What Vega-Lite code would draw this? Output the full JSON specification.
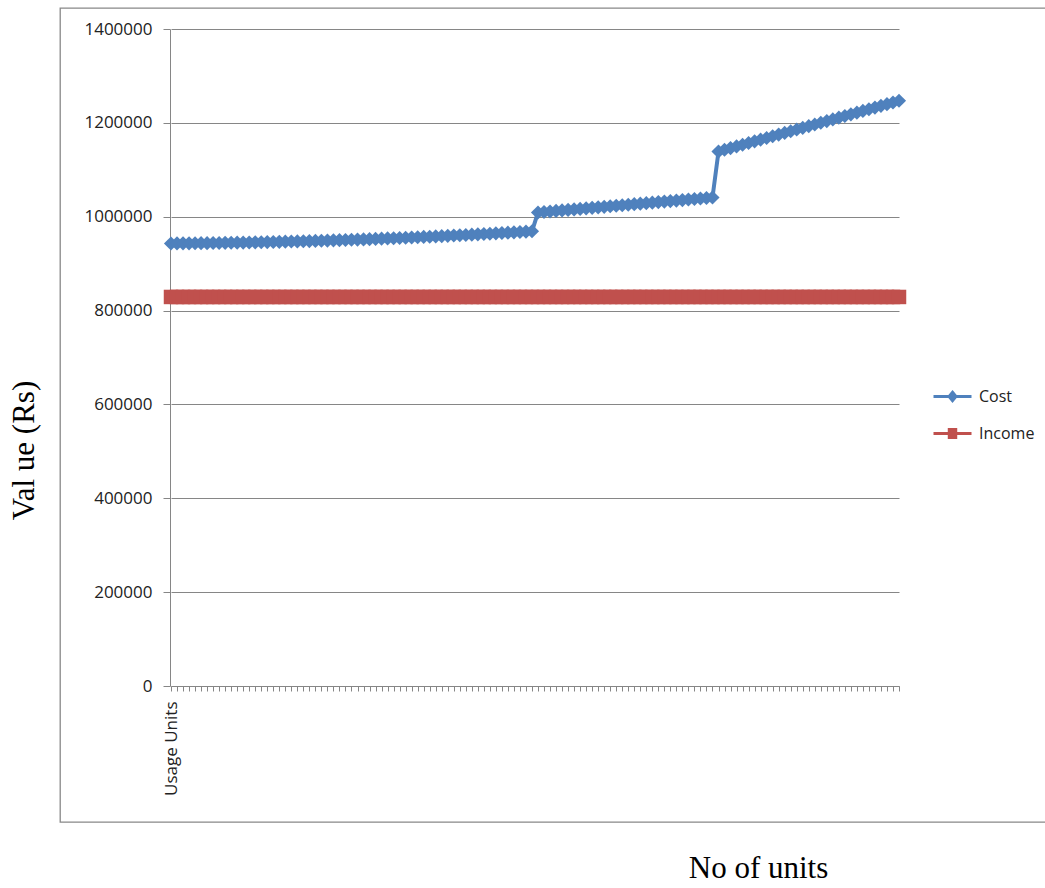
{
  "$schema": "https://vega.github.io/schema/vega-lite/v6.json",
  "width": 990,
  "height": 814,
  "autosize": {"type": "none"},
  "padding": {"left": 60, "top": 8, "right": 0, "bottom": 66},
  "background": "white",
  "config": {"view": {"stroke": "#888888", "strokeWidth": 1.3}, "font": "Open Sans"},
  "data": {"values": [
    {"u":0,"Cost":943000,"Income":829000},{"u":1,"Cost":943100,"Income":829000},{"u":2,"Cost":943200,"Income":829000},{"u":3,"Cost":943300,"Income":829000},{"u":4,"Cost":943500,"Income":829000},{"u":5,"Cost":943600,"Income":829000},{"u":6,"Cost":943700,"Income":829000},{"u":7,"Cost":943900,"Income":829000},{"u":8,"Cost":944100,"Income":829000},{"u":9,"Cost":944300,"Income":829000},
    {"u":10,"Cost":944500,"Income":829000},{"u":11,"Cost":944700,"Income":829000},{"u":12,"Cost":944900,"Income":829000},{"u":13,"Cost":945100,"Income":829000},{"u":14,"Cost":945400,"Income":829000},{"u":15,"Cost":945600,"Income":829000},{"u":16,"Cost":945900,"Income":829000},{"u":17,"Cost":946200,"Income":829000},{"u":18,"Cost":946500,"Income":829000},{"u":19,"Cost":946800,"Income":829000},
    {"u":20,"Cost":947100,"Income":829000},{"u":21,"Cost":947400,"Income":829000},{"u":22,"Cost":947700,"Income":829000},{"u":23,"Cost":948100,"Income":829000},{"u":24,"Cost":948500,"Income":829000},{"u":25,"Cost":948800,"Income":829000},{"u":26,"Cost":949200,"Income":829000},{"u":27,"Cost":949600,"Income":829000},{"u":28,"Cost":950000,"Income":829000},{"u":29,"Cost":950400,"Income":829000},
    {"u":30,"Cost":950800,"Income":829000},{"u":31,"Cost":951300,"Income":829000},{"u":32,"Cost":951700,"Income":829000},{"u":33,"Cost":952200,"Income":829000},{"u":34,"Cost":952700,"Income":829000},{"u":35,"Cost":953200,"Income":829000},{"u":36,"Cost":953700,"Income":829000},{"u":37,"Cost":954200,"Income":829000},{"u":38,"Cost":954700,"Income":829000},{"u":39,"Cost":955200,"Income":829000},
    {"u":40,"Cost":955800,"Income":829000},{"u":41,"Cost":956300,"Income":829000},{"u":42,"Cost":956900,"Income":829000},{"u":43,"Cost":957400,"Income":829000},{"u":44,"Cost":958000,"Income":829000},{"u":45,"Cost":958600,"Income":829000},{"u":46,"Cost":959200,"Income":829000},{"u":47,"Cost":959900,"Income":829000},{"u":48,"Cost":960500,"Income":829000},{"u":49,"Cost":961100,"Income":829000},
    {"u":50,"Cost":961800,"Income":829000},{"u":51,"Cost":962500,"Income":829000},{"u":52,"Cost":963200,"Income":829000},{"u":53,"Cost":963800,"Income":829000},{"u":54,"Cost":964500,"Income":829000},{"u":55,"Cost":965300,"Income":829000},{"u":56,"Cost":966000,"Income":829000},{"u":57,"Cost":966700,"Income":829000},{"u":58,"Cost":967500,"Income":829000},{"u":59,"Cost":968200,"Income":829000},
    {"u":60,"Cost":969000,"Income":829000},{"u":61,"Cost":1009000,"Income":829000},{"u":62,"Cost":1010100,"Income":829000},{"u":63,"Cost":1011200,"Income":829000},{"u":64,"Cost":1012300,"Income":829000},{"u":65,"Cost":1013400,"Income":829000},{"u":66,"Cost":1014500,"Income":829000},{"u":67,"Cost":1015600,"Income":829000},{"u":68,"Cost":1016700,"Income":829000},{"u":69,"Cost":1017800,"Income":829000},
    {"u":70,"Cost":1018900,"Income":829000},{"u":71,"Cost":1020000,"Income":829000},{"u":72,"Cost":1021100,"Income":829000},{"u":73,"Cost":1022200,"Income":829000},{"u":74,"Cost":1023300,"Income":829000},{"u":75,"Cost":1024400,"Income":829000},{"u":76,"Cost":1025600,"Income":829000},{"u":77,"Cost":1026700,"Income":829000},{"u":78,"Cost":1027800,"Income":829000},{"u":79,"Cost":1028900,"Income":829000},
    {"u":80,"Cost":1030000,"Income":829000},{"u":81,"Cost":1031100,"Income":829000},{"u":82,"Cost":1032200,"Income":829000},{"u":83,"Cost":1033300,"Income":829000},{"u":84,"Cost":1034400,"Income":829000},{"u":85,"Cost":1035500,"Income":829000},{"u":86,"Cost":1036600,"Income":829000},{"u":87,"Cost":1037700,"Income":829000},{"u":88,"Cost":1038800,"Income":829000},{"u":89,"Cost":1039900,"Income":829000},
    {"u":90,"Cost":1041000,"Income":829000},{"u":91,"Cost":1139000,"Income":829000},{"u":92,"Cost":1142600,"Income":829000},{"u":93,"Cost":1146200,"Income":829000},{"u":94,"Cost":1149800,"Income":829000},{"u":95,"Cost":1153400,"Income":829000},{"u":96,"Cost":1157000,"Income":829000},{"u":97,"Cost":1160600,"Income":829000},{"u":98,"Cost":1164200,"Income":829000},{"u":99,"Cost":1167800,"Income":829000},
    {"u":100,"Cost":1171400,"Income":829000},{"u":101,"Cost":1175000,"Income":829000},{"u":102,"Cost":1178600,"Income":829000},{"u":103,"Cost":1182200,"Income":829000},{"u":104,"Cost":1185800,"Income":829000},{"u":105,"Cost":1189400,"Income":829000},{"u":106,"Cost":1193000,"Income":829000},{"u":107,"Cost":1196600,"Income":829000},{"u":108,"Cost":1200200,"Income":829000},{"u":109,"Cost":1203800,"Income":829000},
    {"u":110,"Cost":1207400,"Income":829000},{"u":111,"Cost":1211000,"Income":829000},{"u":112,"Cost":1214600,"Income":829000},{"u":113,"Cost":1218200,"Income":829000},{"u":114,"Cost":1221800,"Income":829000},{"u":115,"Cost":1225400,"Income":829000},{"u":116,"Cost":1229000,"Income":829000},{"u":117,"Cost":1232600,"Income":829000},{"u":118,"Cost":1236200,"Income":829000},{"u":119,"Cost":1239800,"Income":829000},
    {"u":120,"Cost":1243400,"Income":829000},{"u":121,"Cost":1247000,"Income":829000}
  ]},
  "transform": [{"fold": ["Cost", "Income"], "as": ["series", "value"]}],
  "encoding": {
    "x": {
      "field": "u", "type": "ordinal",
      "scale": {"type": "point", "range": [111, 839], "padding": 0},
      "axis": {
        "title": "No of units", "offset": -136, "grid": false,
        "labelExpr": "datum.value === 0 ? 'Usage Units' : ''",
        "labelAngle": 270, "labelFont": "Open Sans", "labelFontSize": 17, "labelColor": "#222222",
        "labelPadding": 10, "labelOverlap": false, "labelBound": false, "labelFlush": false,
        "tickSize": 5, "tickColor": "#868686", "domainColor": "#868686", "domainWidth": 1,
        "titleFont": "Liberation Serif", "titleFontSize": 31, "titleFontWeight": "normal", "titleColor": "#000000",
        "titleX": 698, "titleY": 191, "titleAlign": "center", "titleBaseline": "alphabetic", "titleAngle": 0
      }
    },
    "y": {
      "field": "value", "type": "quantitative",
      "scale": {"domain": [0, 1400000], "range": [678, 21], "nice": false},
      "axis": {
        "title": "Val ue (Rs)", "offset": -110,
        "values": [0, 200000, 400000, 600000, 800000, 1000000, 1200000, 1400000],
        "format": "d", "grid": true, "gridColor": "#868686", "gridWidth": 1,
        "tickSize": 7, "tickColor": "#868686", "domainColor": "#868686", "domainWidth": 1,
        "labelFont": "Open Sans", "labelFontSize": 17, "labelColor": "#222222", "labelPadding": 11,
        "titleFont": "Liberation Serif", "titleFontSize": 31, "titleFontWeight": "normal", "titleColor": "#000000",
        "titleX": -137, "titleY": 442, "titleAngle": 270, "titleAlign": "center", "titleBaseline": "alphabetic"
      }
    },
    "color": {
      "field": "series", "type": "nominal",
      "scale": {"domain": ["Cost", "Income"], "range": ["#4F81BD", "#C0504D"]},
      "legend": {
        "title": null, "orient": "none", "legendX": 872, "legendY": 368,
        "symbolSize": 1444, "symbolStrokeWidth": 3,
        "labelFont": "Open Sans", "labelFontSize": 16, "labelColor": "#222222", "labelOffset": 6,
        "rowPadding": 6, "padding": 0,
        "encode": {"symbols": {"update": {
          "shape": {"signal": "datum.value === 'Cost' ? 'M-1,0H1M0,-0.22L0.18,0L0,0.22L-0.18,0Z' : 'M-1,0H1M-0.17,-0.21H0.17V0.21H-0.17Z'"},
          "fill": {"scale": "color", "field": "value"},
          "stroke": {"scale": "color", "field": "value"},
          "strokeWidth": {"value": 3},
          "opacity": {"value": 1}
        }}}
      }
    }
  },
  "layer": [
    {"mark": {"type": "line", "strokeWidth": 4}},
    {"transform": [{"filter": "datum.series === 'Cost'"}],
     "mark": {"type": "point", "filled": true, "opacity": 1, "shape": "diamond", "size": 200}},
    {"transform": [{"filter": "datum.series === 'Income'"}],
     "mark": {"type": "point", "filled": true, "opacity": 1, "shape": "square", "size": 210}}
  ]
}
